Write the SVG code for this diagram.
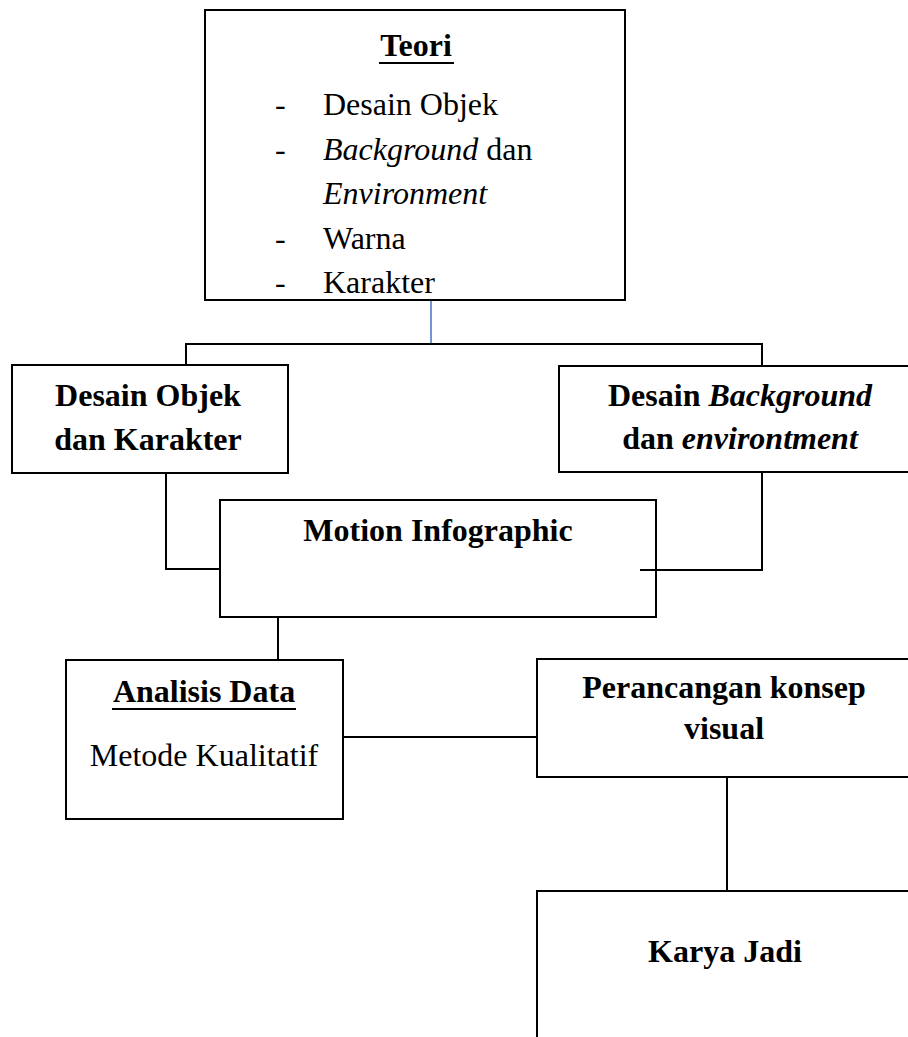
<svg xmlns="http://www.w3.org/2000/svg" width="908" height="1037" viewBox="0 0 908 1037">
<style>
.box{fill:#fff;stroke:#000;stroke-width:2}
.ln{fill:none;stroke:#000;stroke-width:2}
.blue{fill:none;stroke:#4472C4;stroke-width:1.5}
text{font-family:"Liberation Serif","Times New Roman",serif;font-size:32px;fill:#000}
.b{font-weight:bold}
.c{text-anchor:middle}
.i{font-style:italic}
</style>
<rect width="908" height="1037" fill="#fff"/>
<g id="connectors">
<line class="blue" x1="431" y1="300" x2="431" y2="344"/>
<polyline class="ln" points="186,365 186,344 762,344 762,366"/>
<polyline class="ln" points="166,473 166,569 220,569"/>
<polyline class="ln" points="762,472 762,570 640,570"/>
<line class="ln" x1="278" y1="617" x2="278" y2="660"/>
<line class="ln" x1="343" y1="737" x2="537" y2="737"/>
<line class="ln" x1="727" y1="777" x2="727" y2="891"/>
</g>
<g id="teori">
<rect class="box" x="205" y="10" width="420" height="290"/>
<text class="b c" x="416" y="56">Teori</text>
<line x1="379" y1="63" x2="454" y2="63" stroke="#000" stroke-width="2"/>
<text x="275" y="115">-</text><text x="323" y="115">Desain Objek</text>
<text x="275" y="160">-</text><text x="323" y="160"><tspan class="i">Background</tspan> dan</text>
<text class="i" x="323" y="204">Environment</text>
<text x="275" y="249">-</text><text x="323" y="249">Warna</text>
<text x="275" y="293">-</text><text x="323" y="293">Karakter</text>
</g>
<g id="desain-objek">
<rect class="box" x="12" y="365" width="276" height="108"/>
<text class="b c" x="148" y="406">Desain Objek</text>
<text class="b c" x="148" y="450">dan Karakter</text>
</g>
<g id="desain-background">
<rect class="box" x="559" y="366" width="350" height="106"/>
<text class="b c" x="740" y="406">Desain <tspan class="i">Background</tspan></text>
<text class="b c" x="740" y="449">dan <tspan class="i">environtment</tspan></text>
</g>
<g id="motion">
<rect class="box" x="220" y="500" width="436" height="117"/>
<text class="b c" x="438" y="541">Motion Infographic</text>
</g>
<line class="ln" x1="640" y1="570" x2="656" y2="570"/>
<g id="analisis">
<rect class="box" x="66" y="660" width="277" height="159"/>
<text class="b c" x="204" y="702">Analisis Data</text>
<line x1="112" y1="709" x2="296" y2="709" stroke="#000" stroke-width="2"/>
<text class="c" x="204" y="766">Metode Kualitatif</text>
</g>
<g id="perancangan">
<rect class="box" x="537" y="659" width="372" height="118"/>
<text class="b c" x="724" y="698">Perancangan konsep</text>
<text class="b c" x="724" y="739">visual</text>
</g>
<g id="karya">
<polyline class="ln" points="537,1037 537,891 908,891" stroke-width="1.2"/>
<text class="b c" x="725" y="962">Karya Jadi</text>
</g>
</svg>
